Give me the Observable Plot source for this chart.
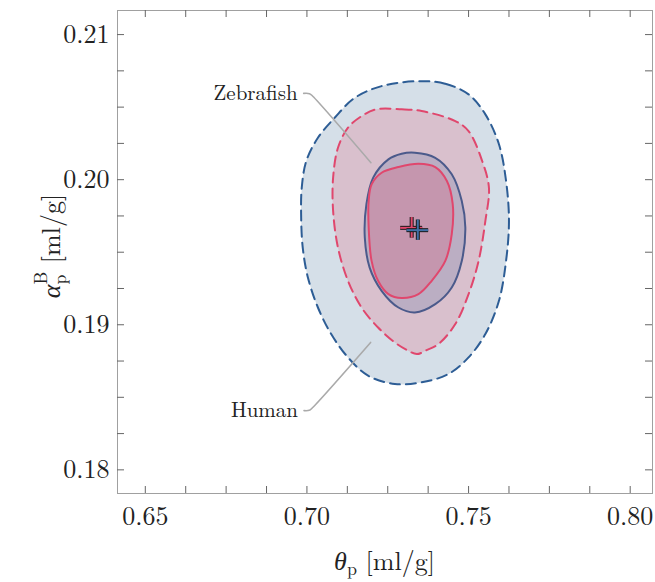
<!DOCTYPE html>
<html>
<head>
<meta charset="utf-8">
<script src="https://cdn.jsdelivr.net/npm/d3@7"></script>
<script src="https://cdn.jsdelivr.net/npm/@observablehq/plot@0.6"></script>
<style>
  html, body { margin: 0; padding: 0; background: #fff; }
  #chart svg { display: block; }
</style>
</head>
<body>
<div id="chart"></div>
<script>
// ---- Data ----
// Human, outer (dashed) contour
const humanOuterX = [0.7345,0.7428,0.7500,0.7552,0.7594,0.7616,0.7625,0.7616,0.7594,0.7552,0.7500,0.7438,0.7355,0.7272,0.7189,0.7127,0.7075,0.7034,0.7003,0.6987,0.6982,0.6984,0.6998,0.7034,0.7086,0.7148,0.7231];
const humanOuterY = [0.20679,0.20661,0.20588,0.20450,0.20244,0.19991,0.19716,0.19440,0.19165,0.18936,0.18775,0.18661,0.18603,0.18592,0.18649,0.18775,0.18936,0.19119,0.19326,0.19532,0.19762,0.19945,0.20129,0.20289,0.20427,0.20564,0.20645];
// Zebrafish, outer (dashed) contour
const zebraOuterX = [0.7215,0.7293,0.7355,0.7459,0.7500,0.7542,0.7563,0.7552,0.7531,0.7500,0.7459,0.7407,0.7370,0.7340,0.7310,0.7272,0.7220,0.7169,0.7127,0.7096,0.7081,0.7081,0.7096,0.7127,0.7169];
const zebraOuterY = [0.20485,0.20485,0.20473,0.20404,0.20335,0.20129,0.19945,0.19716,0.19440,0.19211,0.19005,0.18867,0.18825,0.18798,0.18825,0.18878,0.18981,0.19119,0.19303,0.19532,0.19785,0.20014,0.20220,0.20358,0.20438];
// Human, inner (solid) contour
const humanInnerX = [0.7334,0.7397,0.7448,0.7479,0.7490,0.7479,0.7448,0.7397,0.7334,0.7283,0.7231,0.7194,0.7179,0.7184,0.7205,0.7252,0.7293];
const humanInnerY = [0.20186,0.20151,0.20037,0.19853,0.19670,0.19440,0.19257,0.19142,0.19085,0.19119,0.19234,0.19394,0.19601,0.19831,0.20014,0.20140,0.20179];
// Zebrafish, inner (solid) contour
const zebraInnerX = [0.7231,0.7283,0.7345,0.7397,0.7433,0.7451,0.7448,0.7428,0.7386,0.7345,0.7293,0.7252,0.7220,0.7200,0.7191,0.7191,0.7200];
const zebraInnerY = [0.20048,0.20087,0.20110,0.20087,0.19991,0.19831,0.19624,0.19440,0.19303,0.19211,0.19184,0.19211,0.19303,0.19440,0.19670,0.19853,0.19968];

// Best-fit points with error bars
const pointSeries = ["Zebrafish", "Human"];
const pointX = [0.7324, 0.7343];
const pointY = [0.19668, 0.19652];
const pointXErr = [0.0034, 0.00336];
const pointYErr = [0.00071, 0.00070];

// Leader lines for the labels
const labelNames = ["Zebrafish", "Human"];
const zebraLeaderX = [0.6990, 0.7008, 0.7018, 0.7198];
const zebraLeaderY = [0.20595, 0.20593, 0.20575, 0.20117];
const humanLeaderX = [0.6991, 0.7007, 0.7017, 0.7197];
const humanLeaderY = [0.18408, 0.18410, 0.18428, 0.18878];

// Ticks
const xMajorTicks = [0.65, 0.70, 0.75, 0.80];
const xMinorTicks = [0.6625, 0.675, 0.6875, 0.7125, 0.725, 0.7375, 0.7625, 0.775, 0.7875];
const yMajorTicks = [0.18, 0.19, 0.20, 0.21];
const yMinorTicks = [0.1825, 0.185, 0.1875, 0.1925, 0.195, 0.1975, 0.2025, 0.205, 0.2075];
const xDomain = [0.6414, 0.8069];
const yDomain = [0.17837, 0.21166];

// ---- Build tables ----
const pts = (xs, ys) => xs.map((x, i) => ({x, y: ys[i]}));
const humanOuter = pts(humanOuterX, humanOuterY);
const zebraOuter = pts(zebraOuterX, zebraOuterY);
const humanInner = pts(humanInnerX, humanInnerY);
const zebraInner = pts(zebraInnerX, zebraInnerY);
const zebraLeader = pts(zebraLeaderX, zebraLeaderY);
const humanLeader = pts(humanLeaderX, humanLeaderY);
const points = pointSeries.map((s, i) => ({s, x: pointX[i], y: pointY[i], ex: pointXErr[i], ey: pointYErr[i]}));
const labels = [
  {name: labelNames[0], x: zebraLeaderX[0], y: zebraLeaderY[0]},
  {name: labelNames[1], x: humanLeaderX[0], y: humanLeaderY[0]}
];
const pointColor = {Zebrafish: "#e0476d", Human: "#3f6fa6"};

const FONT = "'Latin Modern Roman', 'Liberation Serif', serif";
const GREEK = "'Liberation Serif', serif";
const W = 655, H = 582, mL = 117, mR = 3, mT = 10, mB = 89;
const fw = W - mL - mR, fh = H - mT - mB, tl = 7;
const allX = xMajorTicks.concat(xMinorTicks);
const allY = yMajorTicks.concat(yMinorTicks);
const curve = "catmull-rom-closed";

const crossMarks = [];
for (const p of points) {
  const d = [p];
  crossMarks.push(
    Plot.ruleY(d, {y: "y", x1: q => q.x - q.ex, x2: q => q.x + q.ex, stroke: "#1a1a1a", strokeWidth: 4}),
    Plot.ruleX(d, {x: "x", y1: q => q.y - q.ey, y2: q => q.y + q.ey, stroke: "#1a1a1a", strokeWidth: 4}),
    Plot.ruleY(d, {y: "y", x1: q => q.x - q.ex, x2: q => q.x + q.ex, stroke: pointColor[p.s], strokeWidth: 2}),
    Plot.ruleX(d, {x: "x", y1: q => q.y - q.ey, y2: q => q.y + q.ey, stroke: pointColor[p.s], strokeWidth: 2})
  );
}

const chart = Plot.plot({
  width: W, height: H,
  marginLeft: mL, marginRight: mR, marginTop: mT, marginBottom: mB,
  x: {domain: xDomain},
  y: {domain: yDomain},
  style: {fontFamily: FONT, background: "#fff", color: "#222"},
  marks: [
    // filled regions
    Plot.line(humanOuter, {x: "x", y: "y", curve, fill: "#d5dfe8", stroke: "none"}),
    Plot.line(zebraOuter, {x: "x", y: "y", curve, fill: "#d9c0cd", stroke: "none"}),
    Plot.line(humanInner, {x: "x", y: "y", curve, fill: "#bbaec3", stroke: "none"}),
    Plot.line(zebraInner, {x: "x", y: "y", curve, fill: "#c596ae", stroke: "none"}),
    // outlines
    Plot.line(humanOuter, {x: "x", y: "y", curve, stroke: "#2d5d95", strokeWidth: 2, strokeDasharray: "10,6"}),
    Plot.line(zebraOuter, {x: "x", y: "y", curve, stroke: "#e0476d", strokeWidth: 2, strokeDasharray: "10,6"}),
    Plot.line(humanInner, {x: "x", y: "y", curve, stroke: "#4b5a8b", strokeWidth: 2}),
    Plot.line(zebraInner, {x: "x", y: "y", curve, stroke: "#e0476d", strokeWidth: 2}),
    // leader lines
    Plot.line(zebraLeader, {x: "x", y: "y", curve: "catmull-rom", stroke: "#aaaaaa", strokeWidth: 1.6}),
    Plot.line(humanLeader, {x: "x", y: "y", curve: "catmull-rom", stroke: "#aaaaaa", strokeWidth: 1.6}),
    Plot.text(labels, {x: "x", y: "y", text: "name", textAnchor: "end", dx: -6, fontSize: 21, fill: "#222", fontFamily: FONT}),
    // best-fit crosses
    ...crossMarks,
    // frame & inward ticks
    Plot.frame({stroke: "#a0a0a0", strokeWidth: 1}),
    Plot.tickX(allX, {insetTop: fh - tl, stroke: "#666", strokeWidth: 1}),
    Plot.tickX(allX, {insetBottom: fh - tl, stroke: "#666", strokeWidth: 1}),
    Plot.tickY(allY, {insetRight: fw - tl, stroke: "#666", strokeWidth: 1}),
    Plot.tickY(allY, {insetLeft: fw - tl, stroke: "#666", strokeWidth: 1}),
    Plot.axisX({ticks: xMajorTicks, tickFormat: d3.format(".2f"), tickSize: 0, tickPadding: 13.5, fontSize: 26, fontFamily: FONT, label: null}),
    Plot.axisY({ticks: yMajorTicks, tickFormat: d3.format(".2f"), tickSize: 0, tickPadding: 8, fontSize: 26, fontFamily: FONT, label: null})
  ]
});

// Axis titles with sub/superscripts
const svg = d3.select(chart);
const xt = svg.append("text")
  .attr("x", mL + fw / 2).attr("y", 570)
  .attr("text-anchor", "middle")
  .style("font-family", FONT)
  .attr("font-size", 26).attr("fill", "#222");
xt.append("tspan").style("font-family", GREEK).attr("font-style", "italic").text("θ");
xt.append("tspan").attr("font-size", 18).attr("dy", 5).text("p");
xt.append("tspan").attr("dy", -5).text(" [ml/g]");

const yt = svg.append("text")
  .attr("transform", `translate(60,246) rotate(-90)`)
  .attr("text-anchor", "middle")
  .style("font-family", FONT)
  .attr("font-size", 26).attr("fill", "#222");
yt.append("tspan").style("font-family", GREEK).attr("font-style", "italic").text("α");
yt.append("tspan").attr("font-size", 18).attr("dy", 6).text("p");
yt.append("tspan").attr("font-size", 18).attr("dx", -10).attr("dy", -19).text("B");
yt.append("tspan").attr("dy", 13).text(" [ml/g]");

document.getElementById("chart").appendChild(chart);
</script>
</body>
</html>
